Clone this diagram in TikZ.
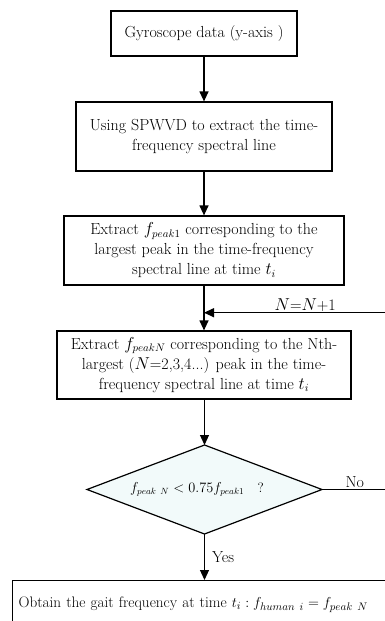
\documentclass[tikz,border=0pt]{standalone}
\usetikzlibrary{arrows.meta}
\definecolor{diafill}{RGB}{242,250,250}
\begin{document}
\begin{tikzpicture}[x=1pt,y=-1pt,
  every node/.style={font=\fontsize{16}{20}\selectfont},
  box/.style={draw, line width=1.2pt, align=center, inner sep=1pt},
  diashape/.style={draw, line width=1.2pt, fill=diafill},
  conn/.style={line width=1.2pt, -{Triangle[length=10pt,width=9pt]}},
  plain/.style={line width=1.2pt},
  lbl/.style={inner sep=1pt}]
\useasboundingbox (0,0) rectangle (385,621);
\clip (0,0) rectangle (385,621);
\node[box, minimum width=186pt, minimum height=45pt] (b1) at (204,33.5) {Gyroscope data (y-axis )};
\node[box, minimum width=256pt, minimum height=69pt] (b2) at (204,136.5) {Using SPWVD to extract the time-\\frequency spectral line};
\node[box, minimum width=280pt, minimum height=69pt] (b3) at (204,250.5) {Extract $f_{peak\mathrm{1}}$ corresponding to the\\largest peak in the time-frequency\\spectral line at time $t_i$};
\node[box, minimum width=294pt, minimum height=68pt] (b4) at (204,365) {Extract $f_{peakN}$ corresponding to the Nth-\\largest ($N$=2,3,4...) peak in the time-\\frequency spectral line at time $t_i$};
% decision diamond
\coordinate (dN) at (204.5,445);
\coordinate (dS) at (204.5,534);
\coordinate (dW) at (87,489.5);
\coordinate (dE) at (322,489.5);
\draw[diashape] (dN) -- (dE) -- (dS) -- (dW) -- cycle;
\node[font=\fontsize{13.5}{16}\selectfont] (d) at (197,489.5) {$f_{peak\ N} < 0.75 f_{peak\mathrm{1}}$\ \ \ ?};
\node[box, anchor=north west, text width=385pt, align=left, inner xsep=6pt, minimum height=48pt, font=\fontsize{15.2}{20}\selectfont] (out) at (12,580) {Obtain the gait frequency at time $t_i : f_{human\ i} = f_{peak\ N}$};
\coordinate (loopend) at (395,312.7);
\coordinate (noend) at (395,489.5);
\coordinate (loopin) at (b3.south |- loopend);
\coordinate (outtop) at (dS |- out.north);
\draw[conn] (b1) -- (b2);
\draw[conn] (b2) -- (b3);
\draw[conn] (b3) -- (b4);
\draw[conn] (b4.south -| dN) -- (dN);
\draw[conn] (dS) -- node[lbl, right, xshift=6pt] {Yes} (outtop);
\draw[conn] (loopend) -- node[lbl, above, pos=0.47] {$N$=$N$+1} (loopin);
\draw[plain] (dE) -- node[lbl, above, pos=0.45] {No} (noend);
\end{tikzpicture}
\end{document}
